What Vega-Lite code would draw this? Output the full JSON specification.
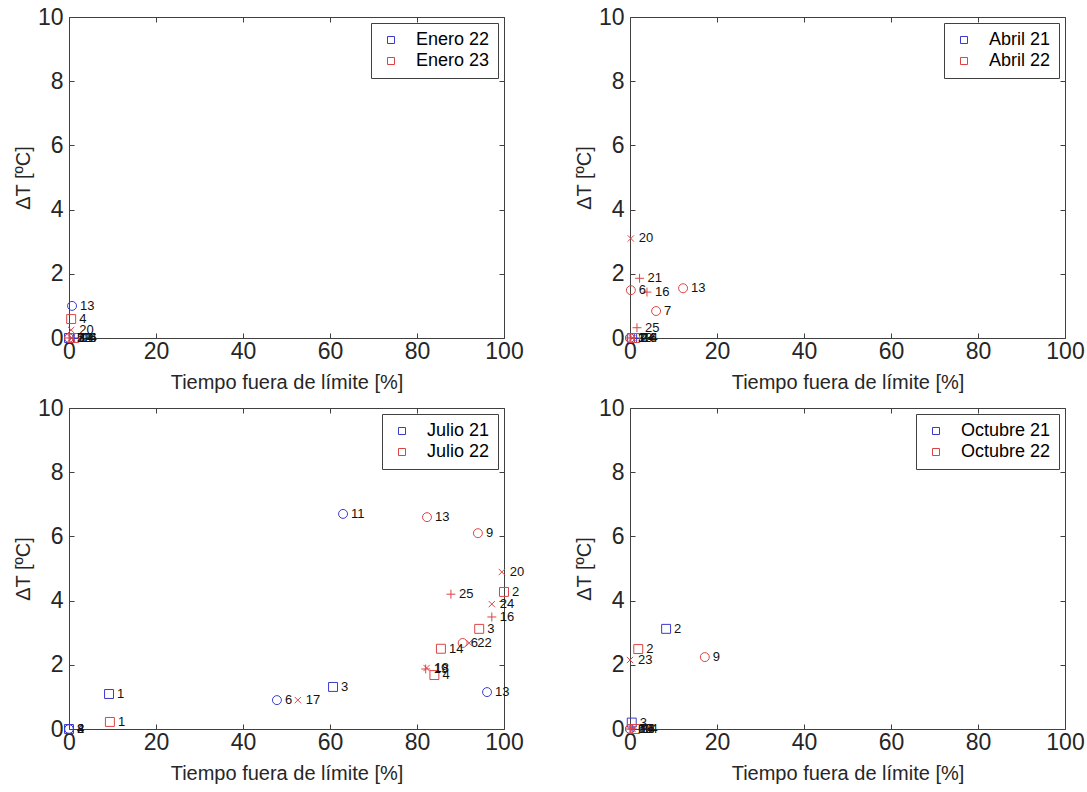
{
  "$schema": "https://vega.github.io/schema/vega-lite/v6.json",
  "padding": {"left": 13, "top": 6, "right": 5, "bottom": 5},
  "background": "white",
  "config": {
    "font": "Liberation Sans",
    "view": {"stroke": null},
    "axis": {
      "grid": false,
      "domainColor": "#404040",
      "tickColor": "#404040",
      "labelColor": "#262626",
      "titleColor": "#262626",
      "labelFontSize": 23,
      "titleFontSize": 20,
      "titleFontWeight": "normal",
      "tickSize": -5,
      "labelPadding": 7,
      "labelFlush": false,
      "labelOverlap": false
    },
    "axisY": {"labelPadding": 11},
    "legend": {
      "labelFont": "Liberation Sans"
    }
  },
  "data": {
    "values": [
      {"p": "E", "s": "Enero 22", "m": "circle", "x": 0, "y": 0, "l": "2"},
      {"p": "E", "s": "Enero 22", "m": "square", "x": 0, "y": 0, "l": "5"},
      {"p": "E", "s": "Enero 22", "m": "x", "x": 0.6, "y": 0, "l": "11"},
      {"p": "E", "s": "Enero 22", "m": "plus", "x": 1.2, "y": 0, "l": "16"},
      {"p": "E", "s": "Enero 22", "m": "circle", "x": 0.7, "y": 1.0, "l": "13"},
      {"p": "E", "s": "Enero 23", "m": "square", "x": 0.5, "y": 0.59, "l": "4"},
      {"p": "E", "s": "Enero 23", "m": "x", "x": 0.5, "y": 0.25, "l": "20"},
      {"p": "E", "s": "Enero 23", "m": "circle", "x": 0, "y": 0, "l": "7"},
      {"p": "E", "s": "Enero 23", "m": "plus", "x": 0, "y": 0, "l": "12"},
      {"p": "E", "s": "Enero 23", "m": "x", "x": 0.6, "y": 0, "l": "14"},
      {"p": "E", "s": "Enero 23", "m": "square", "x": 1.2, "y": 0, "l": "24"},

      {"p": "A", "s": "Abril 21", "m": "circle", "x": 0, "y": 0, "l": "13"},
      {"p": "A", "s": "Abril 21", "m": "square", "x": 0.5, "y": 0, "l": "2"},
      {"p": "A", "s": "Abril 21", "m": "plus", "x": 1.0, "y": 0, "l": "16"},
      {"p": "A", "s": "Abril 22", "m": "x", "x": 0.2, "y": 3.1, "l": "20"},
      {"p": "A", "s": "Abril 22", "m": "plus", "x": 2.2, "y": 1.86, "l": "21"},
      {"p": "A", "s": "Abril 22", "m": "circle", "x": 0.2, "y": 1.49, "l": "6"},
      {"p": "A", "s": "Abril 22", "m": "plus", "x": 3.9, "y": 1.43, "l": "16"},
      {"p": "A", "s": "Abril 22", "m": "circle", "x": 12.2, "y": 1.55, "l": "13"},
      {"p": "A", "s": "Abril 22", "m": "circle", "x": 6.0, "y": 0.84, "l": "7"},
      {"p": "A", "s": "Abril 22", "m": "plus", "x": 1.6, "y": 0.32, "l": "25"},
      {"p": "A", "s": "Abril 22", "m": "circle", "x": 0, "y": 0, "l": "1"},
      {"p": "A", "s": "Abril 22", "m": "plus", "x": 0, "y": 0, "l": "3"},
      {"p": "A", "s": "Abril 22", "m": "x", "x": 0.6, "y": 0, "l": "24"},
      {"p": "A", "s": "Abril 22", "m": "square", "x": 1.2, "y": 0, "l": "14"},

      {"p": "J", "s": "Julio 21", "m": "circle", "x": 0, "y": 0, "l": "4"},
      {"p": "J", "s": "Julio 21", "m": "square", "x": 0, "y": 0, "l": "2"},
      {"p": "J", "s": "Julio 21", "m": "circle", "x": 0, "y": 0, "l": "8"},
      {"p": "J", "s": "Julio 21", "m": "square", "x": 9.2, "y": 1.09, "l": "1"},
      {"p": "J", "s": "Julio 21", "m": "circle", "x": 47.8, "y": 0.9, "l": "6"},
      {"p": "J", "s": "Julio 21", "m": "square", "x": 60.7, "y": 1.31, "l": "3"},
      {"p": "J", "s": "Julio 21", "m": "circle", "x": 63.0, "y": 6.7, "l": "11"},
      {"p": "J", "s": "Julio 21", "m": "circle", "x": 96.1, "y": 1.15, "l": "13"},
      {"p": "J", "s": "Julio 22", "m": "square", "x": 9.4, "y": 0.22, "l": "1"},
      {"p": "J", "s": "Julio 22", "m": "x", "x": 52.6, "y": 0.9, "l": "17"},
      {"p": "J", "s": "Julio 22", "m": "circle", "x": 82.3, "y": 6.6, "l": "13"},
      {"p": "J", "s": "Julio 22", "m": "circle", "x": 94.0, "y": 6.1, "l": "9"},
      {"p": "J", "s": "Julio 22", "m": "x", "x": 99.5, "y": 4.89, "l": "20"},
      {"p": "J", "s": "Julio 22", "m": "square", "x": 100, "y": 4.27, "l": "2"},
      {"p": "J", "s": "Julio 22", "m": "plus", "x": 87.8, "y": 4.2, "l": "25"},
      {"p": "J", "s": "Julio 22", "m": "x", "x": 97.2, "y": 3.89, "l": "24"},
      {"p": "J", "s": "Julio 22", "m": "plus", "x": 97.2, "y": 3.49, "l": "16"},
      {"p": "J", "s": "Julio 22", "m": "square", "x": 94.3, "y": 3.12, "l": "3"},
      {"p": "J", "s": "Julio 22", "m": "circle", "x": 90.5, "y": 2.68, "l": "6"},
      {"p": "J", "s": "Julio 22", "m": "x", "x": 92.0, "y": 2.68, "l": "22"},
      {"p": "J", "s": "Julio 22", "m": "square", "x": 85.5, "y": 2.5, "l": "14"},
      {"p": "J", "s": "Julio 22", "m": "plus", "x": 82.0, "y": 1.87, "l": "19"},
      {"p": "J", "s": "Julio 22", "m": "x", "x": 82.2, "y": 1.9, "l": "18"},
      {"p": "J", "s": "Julio 22", "m": "square", "x": 84.0, "y": 1.68, "l": "4"},

      {"p": "O", "s": "Octubre 21", "m": "circle", "x": 0, "y": 0, "l": "13"},
      {"p": "O", "s": "Octubre 21", "m": "plus", "x": 0.5, "y": 0, "l": "16"},
      {"p": "O", "s": "Octubre 21", "m": "square", "x": 8.3, "y": 3.12, "l": "2"},
      {"p": "O", "s": "Octubre 21", "m": "square", "x": 0.4, "y": 0.2, "l": "3"},
      {"p": "O", "s": "Octubre 22", "m": "square", "x": 1.9, "y": 2.49, "l": "2"},
      {"p": "O", "s": "Octubre 22", "m": "x", "x": 0, "y": 2.15, "l": "23"},
      {"p": "O", "s": "Octubre 22", "m": "circle", "x": 17.2, "y": 2.24, "l": "9"},
      {"p": "O", "s": "Octubre 22", "m": "circle", "x": 0, "y": 0, "l": "6"},
      {"p": "O", "s": "Octubre 22", "m": "plus", "x": 0, "y": 0, "l": "20"},
      {"p": "O", "s": "Octubre 22", "m": "x", "x": 0.6, "y": 0, "l": "24"},
      {"p": "O", "s": "Octubre 22", "m": "square", "x": 1.2, "y": 0, "l": "14"}
    ]
  },
  "columns": 2,
  "bounds": "flush",
  "spacing": {"row": 70, "column": 126},
  "resolve": {"scale": {"color": "independent", "shape": "independent", "x": "independent", "y": "independent"}, "legend": {"color": "independent"}},
  "concat": [
    {
      "width": 435, "height": 321,
      "transform": [{"filter": "datum.p === 'E'"}],
      "layer": [
        {
          "mark": {"type": "point", "filled": false, "strokeWidth": 1, "size": 80, "opacity": 1},
          "encoding": {
            "x": {"field": "x", "type": "quantitative", "scale": {"domain": [0, 100], "nice": false, "zero": false}, "axis": {"orient": "bottom", "values": [0, 20, 40, 60, 80, 100], "title": "Tiempo fuera de límite [%]", "titlePadding": 9}},
            "y": {"field": "y", "type": "quantitative", "scale": {"domain": [0, 10], "nice": false}, "axis": {"orient": "left", "values": [0, 2, 4, 6, 8, 10], "title": "ΔT [ºC]", "titlePadding": 4}},
            "color": {"field": "s", "type": "nominal", "scale": {"domain": ["Enero 22", "Enero 23"], "range": ["#3a3acf", "#dc4444"]},
              "legend": {"title": null, "orient": "top-right", "offset": 6, "symbolType": "square", "symbolSize": 49, "symbolStrokeWidth": 1, "symbolFillColor": "transparent", "strokeColor": "#404040", "fillColor": "white", "padding": 8, "labelFontSize": 18, "labelColor": "#000000", "rowPadding": 3, "symbolOffset": 3, "labelOffset": 16}},
            "shape": {"field": "m", "type": "nominal", "scale": {"domain": ["circle", "square", "x", "plus"], "range": ["circle", "square", "M-0.7,-0.7L0.7,0.7M-0.7,0.7L0.7,-0.7", "M-1,0L1,0M0,-1L0,1"]}, "legend": null}
          }
        },
        {
          "mark": {"type": "text", "align": "left", "baseline": "middle", "dx": 8, "fontSize": 13, "color": "#111111"},
          "encoding": {
            "x": {"field": "x", "type": "quantitative", "axis": {"orient": "top", "values": [0, 20, 40, 60, 80, 100], "labels": false, "title": null}},
            "y": {"field": "y", "type": "quantitative", "axis": {"orient": "right", "values": [0, 2, 4, 6, 8, 10], "labels": false, "title": null}},
            "text": {"field": "l"}
          }
        }
      ],
      "resolve": {"axis": {"x": "independent", "y": "independent"}}
    },
    {
      "width": 435, "height": 321,
      "transform": [{"filter": "datum.p === 'A'"}],
      "layer": [
        {
          "mark": {"type": "point", "filled": false, "strokeWidth": 1, "size": 80, "opacity": 1},
          "encoding": {
            "x": {"field": "x", "type": "quantitative", "scale": {"domain": [0, 100], "nice": false, "zero": false}, "axis": {"orient": "bottom", "values": [0, 20, 40, 60, 80, 100], "title": "Tiempo fuera de límite [%]", "titlePadding": 9}},
            "y": {"field": "y", "type": "quantitative", "scale": {"domain": [0, 10], "nice": false}, "axis": {"orient": "left", "values": [0, 2, 4, 6, 8, 10], "title": "ΔT [ºC]", "titlePadding": 4}},
            "color": {"field": "s", "type": "nominal", "scale": {"domain": ["Abril 21", "Abril 22"], "range": ["#3a3acf", "#dc4444"]},
              "legend": {"title": null, "orient": "top-right", "offset": 6, "symbolType": "square", "symbolSize": 49, "symbolStrokeWidth": 1, "symbolFillColor": "transparent", "strokeColor": "#404040", "fillColor": "white", "padding": 8, "labelFontSize": 18, "labelColor": "#000000", "rowPadding": 3, "symbolOffset": 3, "labelOffset": 16}},
            "shape": {"field": "m", "type": "nominal", "scale": {"domain": ["circle", "square", "x", "plus"], "range": ["circle", "square", "M-0.7,-0.7L0.7,0.7M-0.7,0.7L0.7,-0.7", "M-1,0L1,0M0,-1L0,1"]}, "legend": null}
          }
        },
        {
          "mark": {"type": "text", "align": "left", "baseline": "middle", "dx": 8, "fontSize": 13, "color": "#111111"},
          "encoding": {
            "x": {"field": "x", "type": "quantitative", "axis": {"orient": "top", "values": [0, 20, 40, 60, 80, 100], "labels": false, "title": null}},
            "y": {"field": "y", "type": "quantitative", "axis": {"orient": "right", "values": [0, 2, 4, 6, 8, 10], "labels": false, "title": null}},
            "text": {"field": "l"}
          }
        }
      ],
      "resolve": {"axis": {"x": "independent", "y": "independent"}}
    },
    {
      "width": 435, "height": 321,
      "transform": [{"filter": "datum.p === 'J'"}],
      "layer": [
        {
          "mark": {"type": "point", "filled": false, "strokeWidth": 1, "size": 80, "opacity": 1},
          "encoding": {
            "x": {"field": "x", "type": "quantitative", "scale": {"domain": [0, 100], "nice": false, "zero": false}, "axis": {"orient": "bottom", "values": [0, 20, 40, 60, 80, 100], "title": "Tiempo fuera de límite [%]", "titlePadding": 9}},
            "y": {"field": "y", "type": "quantitative", "scale": {"domain": [0, 10], "nice": false}, "axis": {"orient": "left", "values": [0, 2, 4, 6, 8, 10], "title": "ΔT [ºC]", "titlePadding": 4}},
            "color": {"field": "s", "type": "nominal", "scale": {"domain": ["Julio 21", "Julio 22"], "range": ["#3a3acf", "#dc4444"]},
              "legend": {"title": null, "orient": "top-right", "offset": 6, "symbolType": "square", "symbolSize": 49, "symbolStrokeWidth": 1, "symbolFillColor": "transparent", "strokeColor": "#404040", "fillColor": "white", "padding": 8, "labelFontSize": 18, "labelColor": "#000000", "rowPadding": 3, "symbolOffset": 3, "labelOffset": 16}},
            "shape": {"field": "m", "type": "nominal", "scale": {"domain": ["circle", "square", "x", "plus"], "range": ["circle", "square", "M-0.7,-0.7L0.7,0.7M-0.7,0.7L0.7,-0.7", "M-1,0L1,0M0,-1L0,1"]}, "legend": null}
          }
        },
        {
          "mark": {"type": "text", "align": "left", "baseline": "middle", "dx": 8, "fontSize": 13, "color": "#111111"},
          "encoding": {
            "x": {"field": "x", "type": "quantitative", "axis": {"orient": "top", "values": [0, 20, 40, 60, 80, 100], "labels": false, "title": null}},
            "y": {"field": "y", "type": "quantitative", "axis": {"orient": "right", "values": [0, 2, 4, 6, 8, 10], "labels": false, "title": null}},
            "text": {"field": "l"}
          }
        }
      ],
      "resolve": {"axis": {"x": "independent", "y": "independent"}}
    },
    {
      "width": 435, "height": 321,
      "transform": [{"filter": "datum.p === 'O'"}],
      "layer": [
        {
          "mark": {"type": "point", "filled": false, "strokeWidth": 1, "size": 80, "opacity": 1},
          "encoding": {
            "x": {"field": "x", "type": "quantitative", "scale": {"domain": [0, 100], "nice": false, "zero": false}, "axis": {"orient": "bottom", "values": [0, 20, 40, 60, 80, 100], "title": "Tiempo fuera de límite [%]", "titlePadding": 9}},
            "y": {"field": "y", "type": "quantitative", "scale": {"domain": [0, 10], "nice": false}, "axis": {"orient": "left", "values": [0, 2, 4, 6, 8, 10], "title": "ΔT [ºC]", "titlePadding": 4}},
            "color": {"field": "s", "type": "nominal", "scale": {"domain": ["Octubre 21", "Octubre 22"], "range": ["#3a3acf", "#dc4444"]},
              "legend": {"title": null, "orient": "top-right", "offset": 6, "symbolType": "square", "symbolSize": 49, "symbolStrokeWidth": 1, "symbolFillColor": "transparent", "strokeColor": "#404040", "fillColor": "white", "padding": 8, "labelFontSize": 18, "labelColor": "#000000", "rowPadding": 3, "symbolOffset": 3, "labelOffset": 16}},
            "shape": {"field": "m", "type": "nominal", "scale": {"domain": ["circle", "square", "x", "plus"], "range": ["circle", "square", "M-0.7,-0.7L0.7,0.7M-0.7,0.7L0.7,-0.7", "M-1,0L1,0M0,-1L0,1"]}, "legend": null}
          }
        },
        {
          "mark": {"type": "text", "align": "left", "baseline": "middle", "dx": 8, "fontSize": 13, "color": "#111111"},
          "encoding": {
            "x": {"field": "x", "type": "quantitative", "axis": {"orient": "top", "values": [0, 20, 40, 60, 80, 100], "labels": false, "title": null}},
            "y": {"field": "y", "type": "quantitative", "axis": {"orient": "right", "values": [0, 2, 4, 6, 8, 10], "labels": false, "title": null}},
            "text": {"field": "l"}
          }
        }
      ],
      "resolve": {"axis": {"x": "independent", "y": "independent"}}
    }
  ]
}
